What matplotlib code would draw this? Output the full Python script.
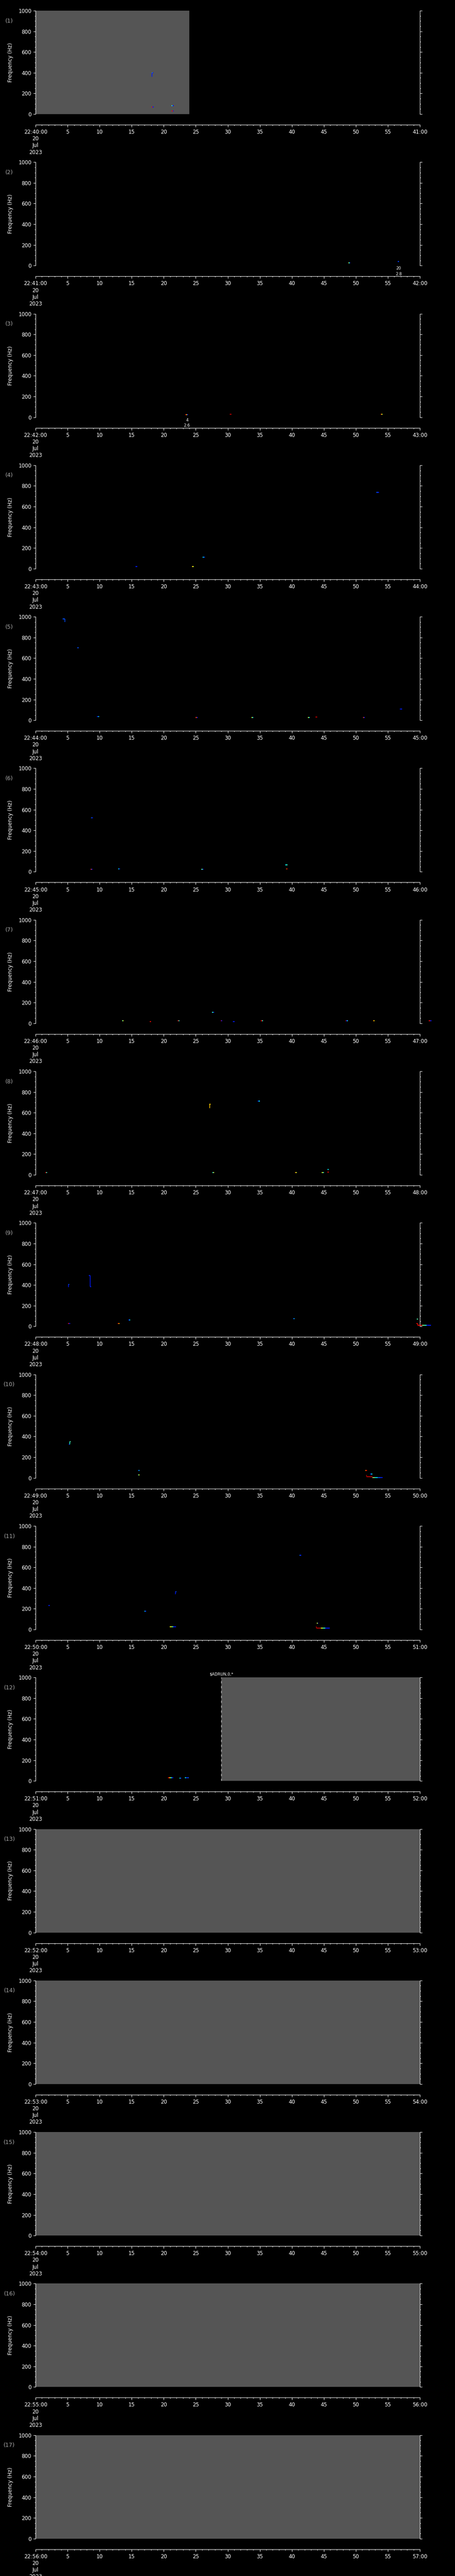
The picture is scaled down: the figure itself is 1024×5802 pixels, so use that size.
import numpy as np
import matplotlib
matplotlib.use("Agg")
import matplotlib.pyplot as plt
from matplotlib.ticker import MultipleLocator, FixedLocator, FixedFormatter

# --------------------
# Layout (pixels)
# --------------------
W, H, DPI = 1024, 5802, 100
N_PANELS = 17
SLOT = H / N_PANELS
BOX_TOP = 24
BOX_H = 233
AX_LEFT = 80
AX_W = 865
PX = 0.72  # points per pixel

GRAY = "#555555"
LABEL_GRAY = "#a8a8a8"
cmap = plt.get_cmap("jet")

# --------------------
# Data
# --------------------
first_minute = 40          # panel 1 starts at 22:40:00
date_lines = "20\nJul\n2023"
freq_ticks = [0, 200, 400, 600, 800, 1000]
sec_ticks = list(range(0, 61, 5))

# no-data (gray) spans, seconds, per panel index
gray_spans = {
    0: [(0, 24)],
    11: [(29, 60)],
    12: [(0, 60)],
    13: [(0, 60)],
    14: [(0, 60)],
    15: [(0, 60)],
    16: [(0, 60)],
}

# start of the run marker (dashed line + label) per panel
run_marks = {11: (29, "$ADRUN,0,*")}

# horizontal spectral specks: (t start, t end, freq Hz, intensities 0..1)
h_specks = {
    0: [(18.1, 18.45, 70, [0.9, 0.15]), (21.2, 21.55, 83, [0.4, 0.15]),
        (21.2, 21.6, 30, [0.9, 0.15]), (18.15, 18.4, 397, [0.4, 0.15])],
    1: [(48.85, 49.1, 26, [0.6, 0.4, 0.15]), (56.5, 56.75, 40, [0.15, 0.2])],
    2: [(23.4, 23.8, 22, [0.9, 0.65, 0.15]), (30.3, 30.6, 28, [0.95]),
        (53.9, 54.2, 28, [0.8, 0.6])],
    3: [(53.2, 53.6, 736, [0.2, 0.15]), (15.6, 15.9, 23, [0.15]),
        (24.4, 24.7, 23, [0.7, 0.6]), (26.1, 26.4, 110, [0.35, 0.2])],
    4: [(4.2, 4.6, 979, [0.2]), (6.5, 6.75, 702, [0.2]), (9.6, 9.9, 33, [0.15, 0.35]),
        (25.0, 25.3, 25, [0.85, 0.15]), (33.7, 34.0, 25, [0.6, 0.35]),
        (42.5, 42.8, 25, [0.6, 0.35]), (43.7, 43.95, 30, [0.95]),
        (51.1, 51.4, 25, [0.85, 0.15]), (56.9, 57.2, 110, [0.15])],
    5: [(8.65, 8.95, 520, [0.2, 0.15]), (8.6, 8.9, 22, [0.85, 0.15]),
        (12.9, 13.2, 27, [0.35, 0.15]), (25.9, 26.2, 25, [0.45, 0.15]),
        (39.0, 39.3, 68, [0.35, 0.4]), (39.1, 39.35, 27, [0.8, 0.9])],
    6: [(13.5, 13.75, 23, [0.4, 0.6]), (17.8, 18.05, 18, [0.9]),
        (22.2, 22.5, 23, [0.9, 0.4]), (27.55, 27.9, 108, [0.4, 0.15]),
        (28.9, 29.15, 23, [0.9, 0.15]), (30.8, 31.05, 18, [0.15]),
        (35.2, 35.5, 23, [0.9, 0.4]), (48.4, 48.75, 23, [0.9, 0.15, 0.35]),
        (52.7, 52.95, 23, [0.75, 0.65]), (61.4, 61.8, 23, [0.9, 0.15])],
    7: [(27.1, 27.3, 683, [0.7]), (34.65, 35.0, 711, [0.15, 0.35]),
        (1.5, 1.8, 23, [0.9, 0.4]), (27.6, 27.9, 23, [0.4, 0.6]),
        (40.5, 40.8, 23, [0.75, 0.6]), (44.7, 45.0, 23, [0.6, 0.4]),
        (45.55, 45.75, 50, [0.35]), (45.55, 45.8, 27, [0.9])],
    8: [(5.12, 5.3, 405, [0.2]), (8.35, 8.5, 491, [0.15]), (8.5, 8.65, 385, [0.15]),
        (5.05, 5.4, 26, [0.9, 0.15]), (12.8, 13.1, 26, [0.9, 0.7]),
        (14.5, 14.8, 61, [0.15, 0.35]), (40.2, 40.45, 73, [0.15, 0.3]),
        (59.5, 59.7, 70, [0.45]), (59.45, 59.65, 27, [0.9]),
        (59.65, 61.7, 8, [0.9, 0.9, 0.5, 0.4, 0.15, 0.15])],
    9: [(5.2, 5.35, 324, [0.15]), (5.35, 5.5, 349, [0.45]),
        (16.0, 16.2, 70, [0.15, 0.3]), (16.0, 16.25, 27, [0.4, 0.6]),
        (51.5, 51.75, 70, [0.8, 0.9]), (51.7, 52.6, 12, [0.95]),
        (52.2, 52.6, 35, [0.15, 0.35]), (52.6, 54.2, 3, [0.5, 0.35, 0.2, 0.15])],
    10: [(2.0, 2.25, 230, [0.15]), (17.0, 17.25, 176, [0.3, 0.15]),
         (21.75, 21.85, 342, [0.15]), (21.85, 22.0, 363, [0.2]),
         (20.95, 21.9, 27, [0.65, 0.55, 0.4, 0.15, 0.15]),
         (41.2, 41.5, 715, [0.2, 0.15]), (43.9, 44.15, 61, [0.6, 0.15]),
         (43.75, 43.85, 25, [0.95]),
         (43.85, 45.9, 12, [0.95, 0.95, 0.6, 0.4, 0.15, 0.15])],
    11: [(20.7, 21.5, 30, [0.9, 0.65, 0.35, 0.15]), (22.5, 22.75, 25, [0.35, 0.15]),
         (23.3, 23.9, 30, [0.35, 0.15, 0.2])],
}

# vertical spectral streaks: (t, freq low, freq high, intensity)
v_specks = {
    0: [(18.15, 360, 397, 0.15)],
    4: [(4.6, 950, 979, 0.2)],
    7: [(27.2, 646, 683, 0.7)],
    8: [(5.12, 380, 405, 0.15), (8.5, 385, 491, 0.15), (59.62, 8, 27, 0.9)],
    9: [(5.35, 324, 349, 0.4), (51.7, 12, 27, 0.95), (52.6, 3, 12, 0.95)],
    10: [(21.85, 342, 363, 0.15), (43.85, 12, 25, 0.95)],
}

# small numeric annotations under the box: (t, text)
notes = {1: (56.7, "20\n2.8"), 2: (23.65, "4\n2.6")}

# --------------------
# Plot
# --------------------
plt.rcParams["font.family"] = ["DejaVu Sans"]
fig = plt.figure(figsize=(W / DPI, H / DPI), dpi=DPI, facecolor="black")

for i in range(N_PANELS):
    top = BOX_TOP + i * SLOT
    ax = fig.add_axes([AX_LEFT / W, 1 - (top + BOX_H) / H, AX_W / W, BOX_H / H])
    ax.set_facecolor("black")
    ax.set_xlim(0, 60)
    ax.set_ylim(0, 1000)

    for t0, t1 in gray_spans.get(i, []):
        ax.axvspan(t0, t1, color=GRAY, lw=0, zorder=0)

    for t0, t1, f, vals in h_specks.get(i, []):
        edges = np.linspace(t0, t1, len(vals) + 1)
        for a, b, v in zip(edges[:-1], edges[1:], vals):
            ax.plot([a, b], [f, f], color=cmap(v), lw=2 * PX,
                    solid_capstyle="butt", clip_on=False, zorder=3)
    for t, f0, f1, v in v_specks.get(i, []):
        ax.plot([t, t], [f0, f1], color=cmap(v), lw=1.5 * PX,
                solid_capstyle="butt", clip_on=False, zorder=3)

    if i in run_marks:
        t, label = run_marks[i]
        ax.axvline(t, color="white", lw=PX, linestyle=(0, (5, 6)), zorder=4)
        ax.annotate(label, (t, 1.0), xycoords=ax.get_xaxis_transform(),
                    xytext=(0, 2), textcoords="offset points", color="white",
                    fontsize=6.5, ha="center", va="bottom", parse_math=False)
    if i in notes:
        t, s = notes[i]
        ax.annotate(s, (t, 0), xycoords=ax.get_xaxis_transform(),
                    xytext=(0, -1.5), textcoords="offset points",
                    color="white", fontsize=6.5, ha="center", va="top",
                    linespacing=1.45)

    # spines
    for side in ["left", "right", "bottom"]:
        ax.spines[side].set_color("white")
        ax.spines[side].set_linewidth(PX)
    ax.spines["top"].set_visible(False)
    ax.spines["bottom"].set_position(("outward", 24 * PX))

    # y axis
    ax.yaxis.set_major_locator(FixedLocator(freq_ticks))
    ax.yaxis.set_minor_locator(MultipleLocator(50))
    ax.tick_params(axis="y", which="both", direction="out", left=True, right=True,
                   labelright=False, colors="white", width=PX, labelsize=8.5, pad=3)
    ax.tick_params(axis="y", which="major", length=5 * PX)
    ax.tick_params(axis="y", which="minor", length=2.5 * PX)

    # x axis
    minute = first_minute + i
    labels = [f"22:{minute}:00\n{date_lines}"] + [str(s) for s in sec_ticks[1:-1]] \
        + [f"{minute + 1}:00"]
    ax.xaxis.set_major_locator(FixedLocator(sec_ticks))
    ax.xaxis.set_major_formatter(FixedFormatter(labels))
    ax.xaxis.set_minor_locator(MultipleLocator(1))
    ax.tick_params(axis="x", which="both", direction="out", colors="white",
                   width=PX, labelsize=8.5, pad=4)
    ax.tick_params(axis="x", which="major", length=4.5 * PX)
    ax.tick_params(axis="x", which="minor", length=2.5 * PX)
    ax.xaxis.get_major_ticks()[0].label1.set_linespacing(1.22)

    ax.text(-0.0653, 0.5, "Frequency (Hz)", transform=ax.transAxes, rotation=90,
            color="white", fontsize=8.5, ha="center", va="center")
    ax.text(-0.068, 0.901, f"({i + 1})", transform=ax.transAxes,
            color=LABEL_GRAY, fontsize=9, ha="center", va="center")

fig.savefig("out.png", dpi=DPI, facecolor="black")
